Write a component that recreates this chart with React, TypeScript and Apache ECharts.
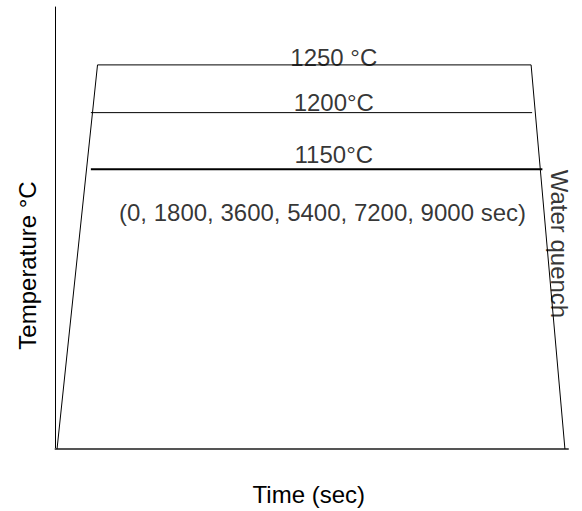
import React, { useEffect, useRef } from "react";
import * as echarts from "echarts";

// Schematic heat-treatment profile (axes are schematic, 0..100 units)
const profileX = [0.3, 8.2, 92.8, 99.4];
const profileY = [0, 86.9, 86.9, 0];

const level1200X = [6.9, 93.0];
const level1200Y = [76.1, 76.1];

const level1150X = [6.9, 95.0];
const level1150Y = [63.3, 63.3];

const annotationText = [
  "1250 °C",
  "1200°C",
  "1150°C",
  "(0, 1800, 3600, 5400, 7200, 9000 sec)",
  "Water quench",
];
const annotationX = [54.3, 54.3, 54.3, 52.1, 98.3];
const annotationY = [88.6, 78.3, 66.6, 53.5, 46.4];
const annotationRotate = [0, 0, 0, 0, -90];

const xTitle = "Time (sec)";
const yTitle = "Temperature °C";

const FONT = "'Liberation Sans', Arial, Helvetica, sans-serif";

export default function App() {
  const ref = useRef<HTMLDivElement>(null);

  useEffect(() => {
    if (!ref.current) return;
    const chart = echarts.init(ref.current, null, { renderer: "svg" });
    const pts = (xs: number[], ys: number[]) => xs.map((x, i) => [x, ys[i]]);
    chart.setOption({
      animation: false,
      backgroundColor: "#fff",
      grid: { left: 55.5, right: 14, top: 7, bottom: 62, containLabel: false },
      xAxis: {
        type: "value",
        min: 0,
        max: 100,
        name: xTitle,
        nameLocation: "middle",
        nameGap: 45,
        nameTextStyle: {
          fontSize: 24,
          fontFamily: FONT,
          color: "#000",
          align: "center",
          verticalAlign: "middle",
          padding: [0, 6, 0, 0],
        },
        axisLine: { show: true, onZero: false, lineStyle: { color: "#555", width: 2 } },
        axisTick: { show: false },
        axisLabel: { show: false },
        splitLine: { show: false },
      },
      yAxis: {
        type: "value",
        min: 0,
        max: 100,
        name: yTitle,
        nameLocation: "middle",
        nameGap: 28,
        nameRotate: 90,
        nameTextStyle: {
          fontSize: 24,
          fontFamily: FONT,
          color: "#000",
          align: "center",
          verticalAlign: "middle",
          padding: [0, 75, 0, 0],
        },
        axisLine: { show: true, onZero: false, lineStyle: { color: "#000", width: 1 } },
        axisTick: { show: false },
        axisLabel: { show: false },
        splitLine: { show: false },
      },
      series: [
        {
          type: "line",
          data: pts(profileX, profileY),
          symbol: "none",
          silent: true,
          lineStyle: { color: "#000", width: 1 },
        },
        {
          type: "line",
          data: pts(level1200X, level1200Y),
          symbol: "none",
          silent: true,
          lineStyle: { color: "#000", width: 1 },
        },
        {
          type: "line",
          data: pts(level1150X, level1150Y),
          symbol: "none",
          silent: true,
          lineStyle: { color: "#000", width: 2 },
        },
        {
          type: "scatter",
          symbolSize: 0,
          clip: false,
          silent: true,
          data: annotationText.map((_, i) => ({
            value: [annotationX[i], annotationY[i]],
            label: { rotate: annotationRotate[i] },
          })),
          label: {
            show: true,
            position: "inside",
            formatter: (p: any) => annotationText[p.dataIndex],
            fontSize: 24,
            fontFamily: FONT,
            color: "#000",
            align: "center",
            verticalAlign: "middle",
          },
        },
      ],
    });
    return () => chart.dispose();
  }, []);

  return (
    <div
      ref={ref}
      style={{ position: "absolute", left: 0, top: 0, width: 582, height: 511 }}
    />
  );
}
